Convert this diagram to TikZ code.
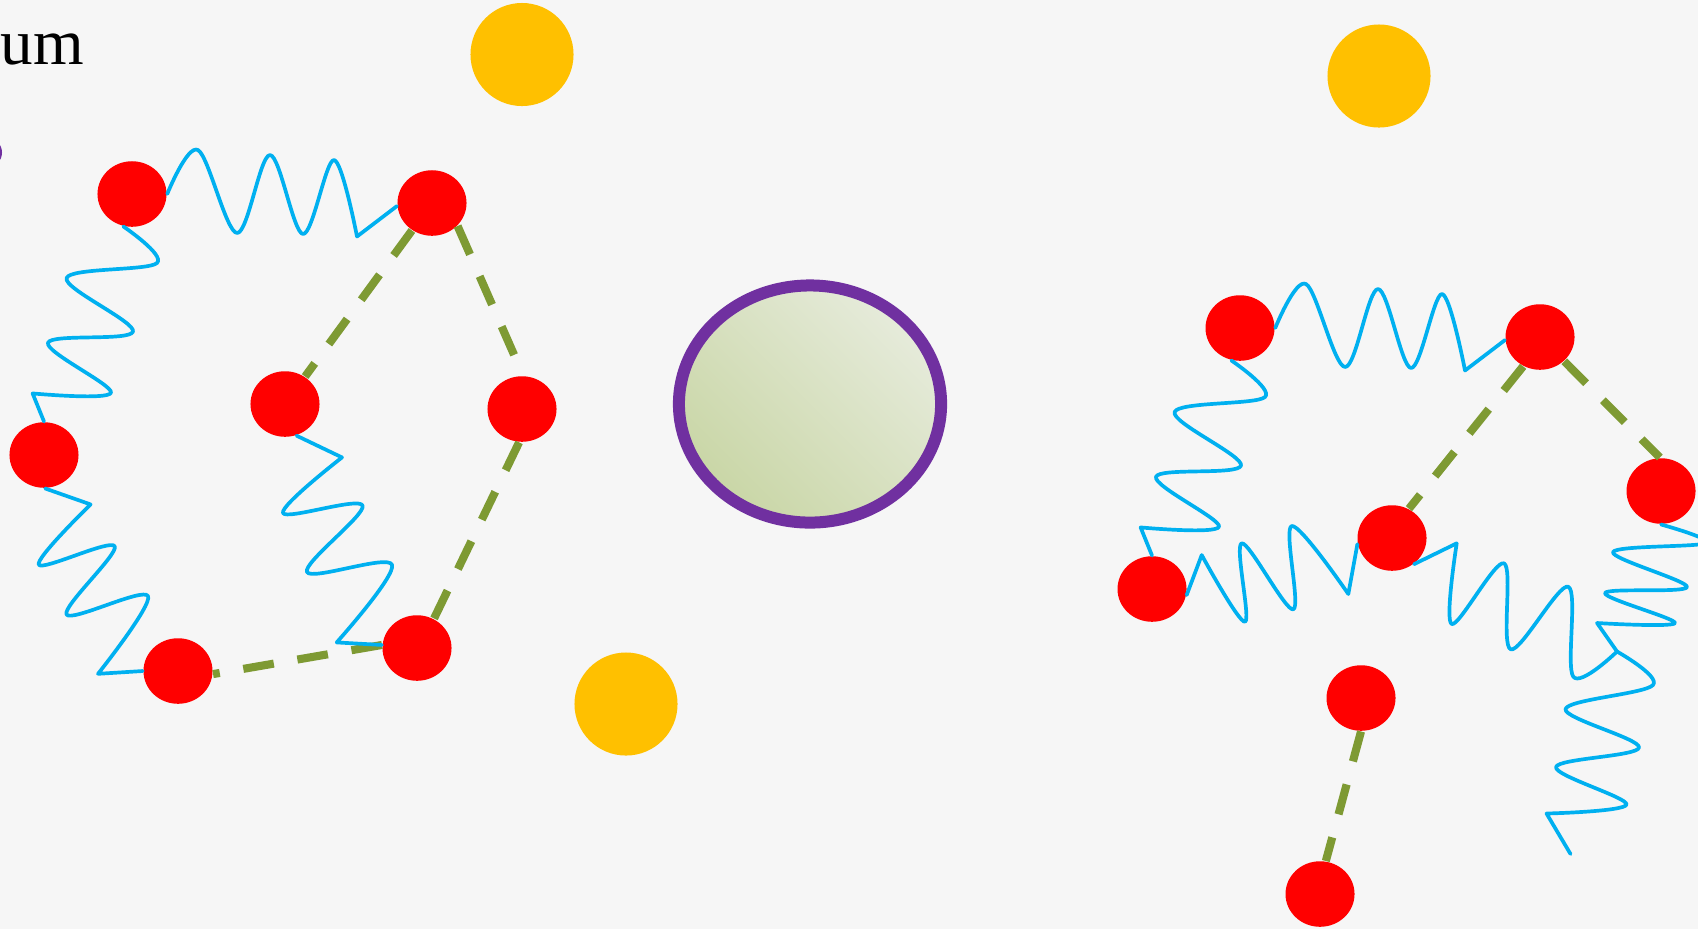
\documentclass[tikz,border=0pt]{standalone}
\usepackage{fontspec}
\setmainfont{Liberation Serif}
\usetikzlibrary{shapes.geometric,calc}
\definecolor{bgc}{HTML}{F6F6F6}
\definecolor{ballred}{HTML}{FF0000}
\definecolor{sunc}{HTML}{FFC000}
\definecolor{springc}{HTML}{00B0F0}
\definecolor{bondc}{HTML}{7E9A33}
\definecolor{cellpurple}{HTML}{7030A0}
\definecolor{celldark}{HTML}{C9D6A6}
\definecolor{celllight}{HTML}{E6EBDB}
\tikzset{
  ball/.style={ellipse, fill=ballred, minimum width=0.69cm, minimum height=0.655cm, inner sep=0pt},
  sun/.style={circle, fill=sunc, minimum size=1.03cm, inner sep=0pt},
  springline/.style={draw=springc, line width=1.05pt, line join=round, line cap=round},
  bond/.style={draw=bondc, line width=2.3pt, dash pattern=on 8.8pt off 6.8pt},
  sm/.style={smooth, tension=0.55}
}
\begin{document}
\begin{tikzpicture}[x=0.01cm, y=-0.01cm]
\clip (0,0) rectangle (1698,929);
\fill[bgc] (0,0) rectangle (1698,929);

% text and bullet
\node[anchor=base west, inner sep=0pt, font=\fontsize{18.5}{22}\selectfont] (title) at (0,64.5) {um};
\node[circle, fill=cellpurple, minimum size=0.3cm, inner sep=0pt] (bullet) at (-13,152.5) {};

% yellow circles
\node[sun] (s1) at (522,54.5) {};
\node[sun] (s2) at (1379,76) {};
\node[sun] (s3) at (626,704) {};

% central cell
\node[ellipse, draw=cellpurple, line width=0.12cm, minimum width=2.62cm, minimum height=2.37cm,
      top color=celllight, bottom color=celldark, shading angle=-45] (cell) at (810,404) {};

% left molecule
\node[ball] (A) at (132,194) {};
\node[ball] (B) at (432,203) {};
\node[ball] (C) at (44,455) {};
\node[ball] (D) at (285,404) {};
\node[ball] (E) at (522,409) {};
\node[ball] (F) at (178,671) {};
\node[ball] (G) at (417,648) {};

% right molecule
\node[ball] (H) at (1240,328) {};
\node[ball] (I) at (1540,337) {};
\node[ball] (J) at (1661,491) {};
\node[ball] (K) at (1392,538) {};
\node[ball] (L) at (1152,589) {};
\node[ball] (M) at (1361,698) {};
\node[ball] (N) at (1320,894) {};
\coordinate (Q) at (1617,651.5);
\coordinate (T) at (1570.5,854);

% dashed bonds
\draw[bond] (B) -- (D);
\draw[bond] (B.-42) -- (E.88);
\draw[bond] (E.-95) -- (G.60);
\draw[bond] (G.175) -- (F.-5);
\draw[bond] (I.-120) -- (K.60);
\draw[bond] (I.-45) -- (J.92);
\draw[bond] (M.-90) -- (N.80);

% springs, left molecule
\draw[springline] plot[sm] coordinates {(A.east) (198,150) (237,233) (270,155) (303,234) (334,160) (357,236.5)} -- (B.185);
\draw[springline] plot[sm] coordinates {(A.-105) (157,263) (66.6,278) (133,331.6) (48,342.7) (111,392.7) (32.6,393.4)} -- (C.north);
\draw[springline] (C.-88) -- plot[sm] coordinates {(90.6,504.4) (38.8,564.7) (114.7,546.2) (66.6,614.6) (148,596) (98,673.8)} -- (F.west);
\draw[springline] (D.-70) -- plot[sm] coordinates {(342,457.4) (283,513) (362.6,505.5) (307,572) (392,564.7) (336.7,642.4)} -- (G.175);

% springs, right molecule
\draw[springline] plot[sm] coordinates {(H.east) (1306,284) (1345,367) (1378,289) (1411,368) (1442,294) (1465,370.5)} -- (I.185);
\draw[springline] plot[sm] coordinates {(H.-105) (1265,397) (1174.6,412) (1241,465.6) (1156,476.7) (1219,526.7) (1140.6,527.4)} -- (L.north);
\draw[springline] (L.-10) -- plot[sm] coordinates {(1201.7,555) (1245,621.7) (1241.7,543.3) (1293.3,609.3) (1291.7,526) (1348.3,594)} -- (K.190);
\draw[springline] (K.-50) -- plot[sm] coordinates {(1456.7,543.3) (1451.7,624) (1504,563.3) (1510.7,649.3) (1568.3,586.7) (1573.3,676.7) (Q)};
\draw[springline] plot[sm] coordinates {(J.-90) (1706,543) (1613,552) (1687,587) (1605,593) (1675,623) (1597,623)} -- (Q);
\draw[springline] plot[sm] coordinates {(Q) (1653,685) (1565.5,709) (1639,747.5) (1556,767) (1626.5,804.5) (1546.5,813.5)} -- (T);
\end{tikzpicture}
\end{document}
